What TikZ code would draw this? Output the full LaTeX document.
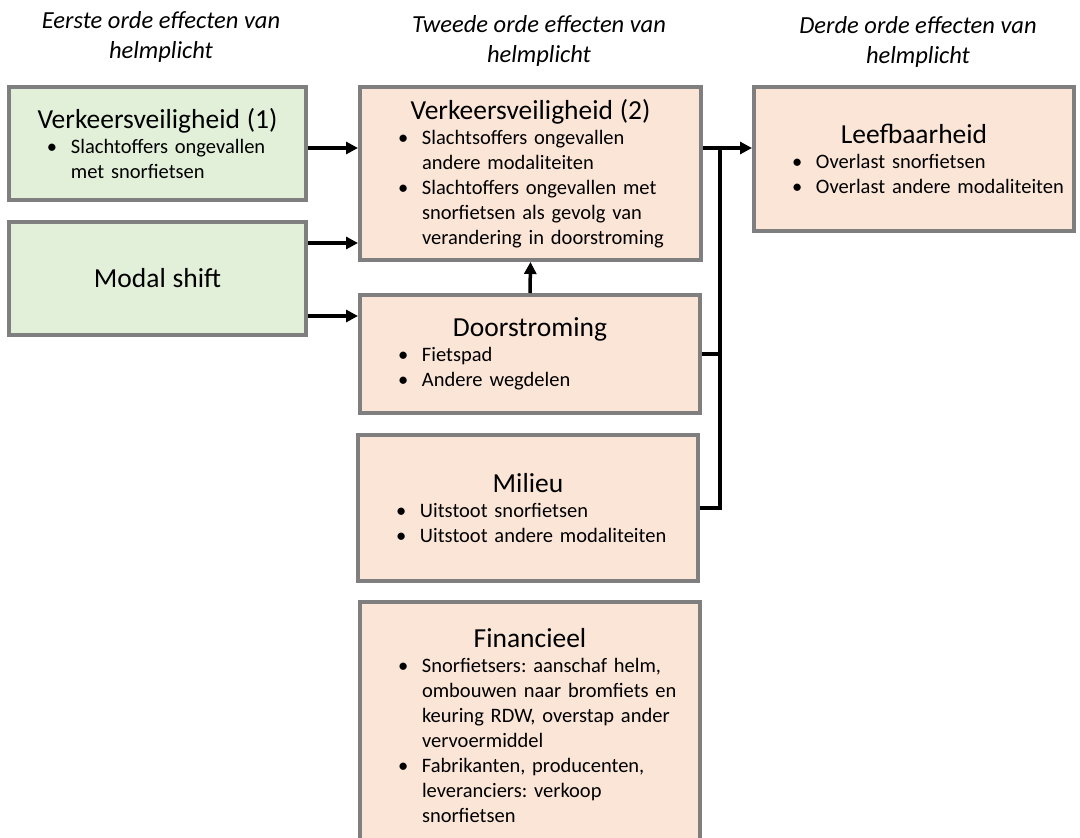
\documentclass[tikz,border=0pt]{standalone}
\usepackage{fontspec}
\setmainfont{Carlito}
\usetikzlibrary{arrows.meta}
\frenchspacing

\definecolor{groen}{HTML}{E2F0D9}
\definecolor{oranje}{HTML}{FBE5D6}
\definecolor{rand}{HTML}{7F7F7F}

\newcommand{\titel}[1]{{\centering\fontsize{27.5}{30}\selectfont #1\par}}
\newcommand{\punt}[1]{{\leftskip=28pt\rightskip=0pt plus 1fil\hangindent=24pt\hangafter=1%
  \noindent\makebox[24pt][l]{\textbullet}#1\par}}

\begin{document}
\begin{tikzpicture}[x=1pt,y=-1pt,
  effect/.style={draw=rand, line width=4pt, inner xsep=10pt, align=left,
    font=\fontsize{20.5}{25}\selectfont},
  eerste/.style={effect, fill=groen},
  tweede/.style={effect, fill=oranje},
  kop/.style={align=center, font=\itshape\fontsize{24.5}{30}\selectfont},
  lijn/.style={line width=3.5pt},
  pijl/.style={line width=3.5pt, -{Triangle[length=12pt,width=12pt]}}]
  \clip (0,0) rectangle (1080,838);

  \node[kop] (kop1) at (161,37) {Eerste orde effecten van\\helmplicht};
  \node[kop] (kop2) at (539,41) {Tweede orde effecten van\\helmplicht};
  \node[kop] (kop3) at (918,42) {Derde orde effecten van\\helmplicht};

  \node[eerste, minimum width=297pt, minimum height=113pt, text width=277pt] (vv1) at (157.5,143.5)
    {\titel{Verkeersveiligheid (1)}\punt{Slachtoffers ongevallen\newline met snorfietsen}};
  \node[eerste, minimum width=297pt, minimum height=113pt, text width=277pt] (ms) at (157.5,278.5)
    {\titel{Modal shift}};

  \node[tweede, minimum width=341pt, minimum height=173pt, text width=321pt] (vv2) at (530.5,173.5)
    {\titel{Verkeersveiligheid (2)}\punt{Slachtsoffers ongevallen\newline andere modaliteiten}%
     \punt{Slachtoffers ongevallen met\newline snorfietsen als gevolg van\newline verandering in doorstroming}};
  \node[tweede, minimum width=340pt, minimum height=118pt, text width=320pt] (door) at (530,354)
    {\titel{Doorstroming}\punt{Fietspad}\punt{Andere wegdelen}};
  \node[tweede, minimum width=340pt, minimum height=146pt, text width=320pt] (mil) at (528,508)
    {\titel{Milieu}\punt{Uitstoot snorfietsen}\punt{Uitstoot andere modaliteiten}};
  \node[tweede, minimum width=340pt, minimum height=248pt, text width=320pt] (fin) at (530,726)
    {\titel{Financieel}\punt{Snorfietsers: aanschaf helm,\newline ombouwen naar bromfiets en\newline keuring RDW, overstap ander\newline vervoermiddel}%
     \punt{Fabrikanten, producenten,\newline leveranciers: verkoop\newline snorfietsen}};

  \node[tweede, minimum width=320pt, minimum height=144pt, text width=300pt] (leef) at (914,159)
    {\titel{Leefbaarheid}\punt{Overlast snorfietsen}\punt{Overlast andere modaliteiten}};

  \coordinate (knoop) at (720,148);

  \draw[pijl] (vv1.east |- knoop) -- (vv2.west |- knoop);
  \draw[pijl] ([yshift=35.5pt]ms.east) -- ([yshift=35.5pt]ms.east -| vv2.west);
  \draw[pijl] ([yshift=-37.5pt]ms.east) -- ([yshift=-37.5pt]ms.east -| door.west);
  \draw[pijl] (door.north) -- (vv2.south);

  \draw[lijn] (vv2.east |- knoop) -- (knoop);
  \draw[pijl] (knoop) -- (knoop -| leef.west);
  \draw[lijn] (knoop) -- (knoop |- mil.east) -- (mil.east);
  \draw[lijn] (door.east) -- (door.east -| knoop);
\end{tikzpicture}
\end{document}
